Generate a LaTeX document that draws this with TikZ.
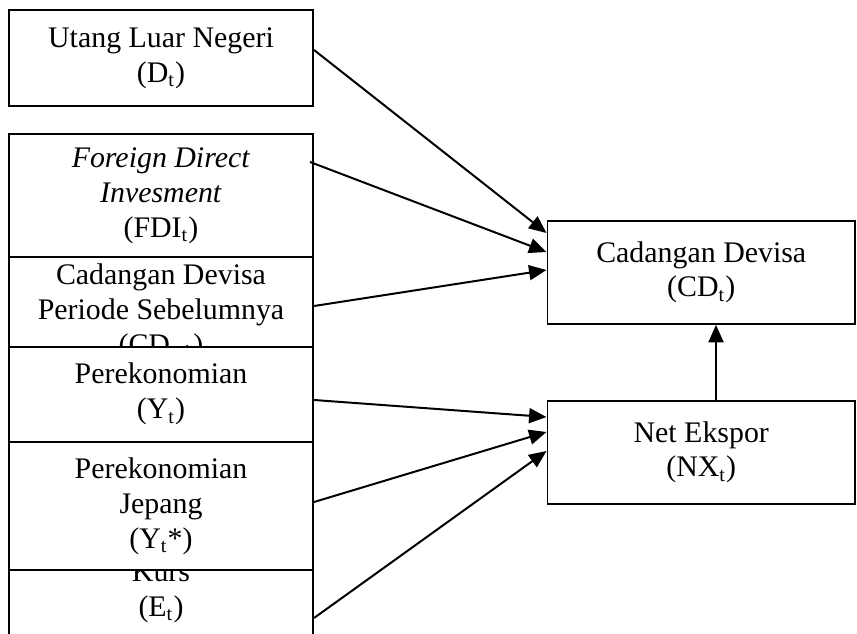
\documentclass[tikz,border=0pt]{standalone}
\usepackage{fontspec}
\setmainfont{Liberation Serif}
\usepackage{tikz}
\usetikzlibrary{arrows.meta, calc}

\begin{document}
\begin{tikzpicture}[x=0.4016pt, y=-0.4016pt,
    box/.style={draw, fill=white, line width=0.8pt, inner sep=0pt,
        align=center, font=\fontsize{12pt}{14pt}\selectfont},
    leftbox/.style={box, minimum width=122.1pt},
    rightbox/.style={box, minimum width=123.5pt, minimum height=41.4pt},
    arr/.style={line width=0.8pt, -{Triangle[length=7pt, width=6pt]}}]
            \useasboundingbox (0,0) rectangle (857,633);

            % left column, later boxes cover parts of earlier ones
            \node[leftbox, minimum height=38.55pt] (D) at (161, 58) {Utang Luar Negeri\\(D\textsubscript{t})};
            \node[leftbox, minimum height=49.4pt] (FDI) at (161, 195.5) {\textit{Foreign Direct}\\\textit{Invesment}\\(FDI\textsubscript{t})};
            \node[leftbox, minimum height=44.2pt] (CDlag) at (161, 312) {Cadangan Devisa\\Periode Sebelumnya\\(CD\textsubscript{t-1})};
            \node[leftbox, minimum height=38.15pt] (Y) at (161, 394.2) {Perekonomian\\(Y\textsubscript{t})};
            \node[leftbox, minimum height=38.55pt] (E) at (161, 592) {Kurs\\(E\textsubscript{t})};
            \node[leftbox, minimum height=51.6pt] (Ystar) at (161, 506) {Perekonomian\\Jepang\\(Y\textsubscript{t}*)};

            % right column
            \node[rightbox] (CD) at (701.25, 272.3) {Cadangan Devisa\\(CD\textsubscript{t})};
            \node[rightbox] (NX) at (701.25, 452.3) {Net Ekspor\\(NX\textsubscript{t})};

            \draw[arr] (D.east |- 0,50) -- (CD.west |- 0,233); % D-CD
            \draw[arr] ($(FDI.east |- 0,162)+(-4,0)$) -- (CD.west |- 0,252); % FDI-CD
            \draw[arr] (CDlag.east |- 0,306) -- (CD.west |- 0,270); % CDlag-CD
            \draw[arr] (Y.east |- 0,400) -- (NX.west |- 0,417); % Y-NX
            \draw[arr] (Ystar.east |- 0,502) -- (NX.west |- 0,432); % Ystar-NX
            \draw[arr] (E.east |- 0,618) -- (NX.west |- 0,451); % E-NX
            \draw[arr] (NX.north -| 716,0) -- (CD.south -| 716,0); % NX-CD
        \end{tikzpicture}
\end{document}
